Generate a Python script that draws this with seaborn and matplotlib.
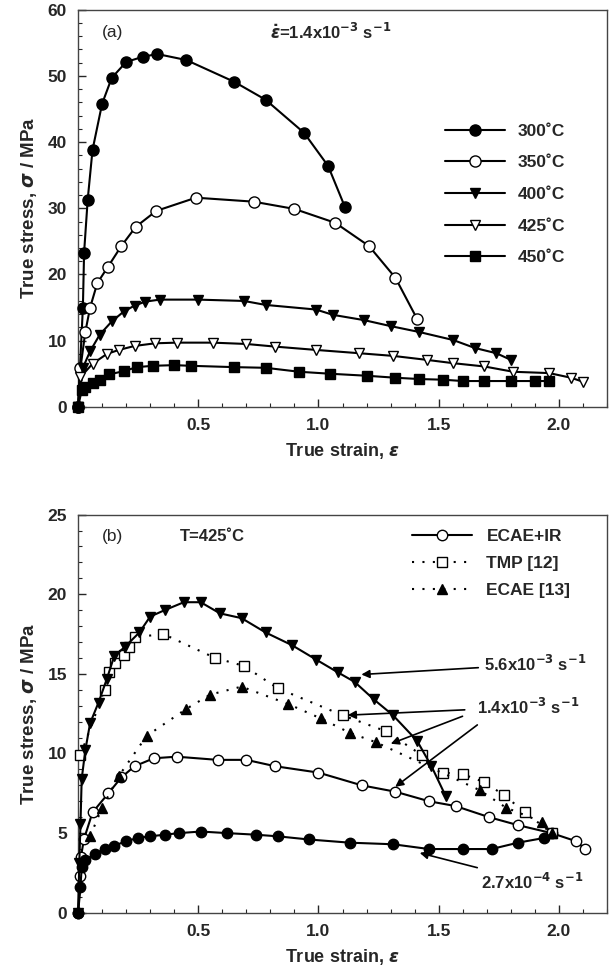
import numpy as np
import pandas as pd
import matplotlib
matplotlib.use('Agg')
import matplotlib.pyplot as plt
from matplotlib.ticker import MultipleLocator
import seaborn as sns

# ---- panel (a): strain rate 1.4x10^-3 s^-1, different temperatures ----
x_300 = [0, 0.02, 0.025, 0.04, 0.06, 0.10, 0.14, 0.20, 0.27, 0.33, 0.45, 0.65, 0.78, 0.94, 1.04, 1.11]
y_300 = [0, 15.0, 23.3, 31.3, 38.8, 45.8, 49.7, 52.1, 52.9, 53.3, 52.4, 49.1, 46.4, 41.4, 36.4, 30.2]

x_350 = [0, 0.01, 0.03, 0.05, 0.08, 0.125, 0.18, 0.24, 0.325, 0.49, 0.73, 0.90, 1.07, 1.21, 1.32, 1.41]
y_350 = [0, 5.9, 11.3, 15.0, 18.7, 21.2, 24.3, 27.2, 29.6, 31.6, 31.0, 29.9, 27.8, 24.3, 19.5, 13.3]

x_400 = [0, 0.02, 0.05, 0.09, 0.14, 0.19, 0.235, 0.28, 0.34, 0.50, 0.69, 0.78, 0.99, 1.06,
         1.19, 1.30, 1.42, 1.56, 1.65, 1.74, 1.80]
y_400 = [0, 5.9, 8.4, 10.9, 12.9, 14.4, 15.3, 15.9, 16.2, 16.2, 16.0, 15.4, 14.7, 13.9,
         13.1, 12.2, 11.3, 10.1, 8.9, 8.1, 7.1]

x_425 = [0, 0.01, 0.06, 0.12, 0.17, 0.235, 0.32, 0.41, 0.56, 0.70, 0.82, 0.99, 1.17, 1.31,
         1.45, 1.56, 1.69, 1.81, 1.96, 2.05, 2.10]
y_425 = [0, 4.5, 6.5, 8.0, 8.6, 9.2, 9.6, 9.7, 9.7, 9.5, 9.1, 8.6, 8.1, 7.7,
         7.1, 6.6, 6.1, 5.3, 5.1, 4.4, 3.8]

x_450 = [0, 0.015, 0.03, 0.06, 0.09, 0.13, 0.19, 0.245, 0.31, 0.40, 0.47, 0.65, 0.78, 0.92,
         1.05, 1.20, 1.32, 1.42, 1.52, 1.60, 1.69, 1.80, 1.90, 1.96]
y_450 = [0, 2.5, 3.0, 3.6, 4.1, 4.9, 5.4, 6.0, 6.2, 6.3, 6.2, 6.0, 5.9, 5.3,
         5.0, 4.7, 4.4, 4.2, 4.1, 3.9, 3.9, 3.9, 3.9, 3.9]

# ---- panel (b): T = 425 C ----
x_ecae_ir = [0, 0.01, 0.012, 0.024, 0.06, 0.126, 0.18, 0.235, 0.315, 0.41, 0.58, 0.70, 0.82,
             1.00, 1.18, 1.32, 1.46, 1.57, 1.71, 1.83, 1.97, 2.07, 2.11]
y_ecae_ir = [0, 2.3, 3.5, 4.6, 6.3, 7.5, 8.5, 9.2, 9.7, 9.8, 9.6, 9.6, 9.2,
             8.8, 8.0, 7.6, 7.0, 6.7, 6.0, 5.5, 5.0, 4.5, 4.0]

x_tmp = [0.01, 0.11, 0.13, 0.155, 0.19, 0.21, 0.235, 0.355, 0.57, 0.69, 0.83, 1.10, 1.28,
         1.43, 1.52, 1.60, 1.69, 1.77, 1.86, 1.97]
y_tmp = [9.9, 14.0, 15.1, 15.7, 16.2, 16.7, 17.3, 17.5, 16.0, 15.5, 14.1, 12.4, 11.4,
         9.9, 8.8, 8.7, 8.2, 7.4, 6.3, 5.0]

x_ecae = [0.05, 0.10, 0.17, 0.285, 0.45, 0.55, 0.68, 0.875, 1.01, 1.13, 1.24, 1.67, 1.78, 1.93, 1.97]
y_ecae = [4.8, 6.6, 8.6, 11.1, 12.8, 13.7, 14.2, 13.1, 12.2, 11.3, 10.7, 7.7, 6.6, 5.7, 5.0]

x_fast = [0, 0.005, 0.01, 0.015, 0.03, 0.05, 0.085, 0.12, 0.15, 0.195, 0.255, 0.30, 0.36, 0.44,
          0.51, 0.59, 0.68, 0.78, 0.89, 0.99, 1.08, 1.15, 1.23, 1.31, 1.41, 1.47, 1.53]
y_fast = [0, 3.1, 5.6, 8.4, 10.2, 11.9, 13.2, 14.7, 16.1, 16.7, 17.6, 18.6, 19.0, 19.5,
          19.5, 18.8, 18.5, 17.6, 16.8, 15.9, 15.1, 14.5, 13.4, 12.4, 10.8, 9.2, 7.3]

x_slow = [0, 0.01, 0.015, 0.03, 0.07, 0.11, 0.15, 0.20, 0.25, 0.30, 0.36, 0.42, 0.51, 0.62,
          0.74, 0.83, 0.96, 1.13, 1.31, 1.46, 1.60, 1.72, 1.83, 1.94]
y_slow = [0, 1.6, 2.9, 3.3, 3.7, 4.0, 4.2, 4.5, 4.7, 4.8, 4.9, 5.0, 5.1, 5.0,
          4.9, 4.8, 4.6, 4.4, 4.3, 4.0, 4.0, 4.0, 4.4, 4.7]

sns.set_style('ticks')
plt.rcParams['font.family'] = ['Liberation Sans', 'DejaVu Sans']
plt.rcParams['font.weight'] = 'bold'
plt.rcParams['mathtext.fontset'] = 'dejavusans'

fig = plt.figure(figsize=(6.1, 9.71), dpi=100)
ax1 = fig.add_axes([0.128, 0.581, 0.867, 0.409])
ax2 = fig.add_axes([0.128, 0.060, 0.867, 0.410])

dots = (0, (1, 4))


def curve(ax, x, y, label, marker, filled, ms, ls='-'):
    df = pd.DataFrame({'strain': x, 'stress': y})
    sns.lineplot(data=df, x='strain', y='stress', ax=ax, sort=False, estimator=None,
                 color='black', linewidth=1.5, linestyle=ls, marker=marker, markersize=ms,
                 markerfacecolor='black' if filled else 'white', markeredgecolor='black',
                 markeredgewidth=1.0, label=label, clip_on=False, zorder=3)


# panel (a)
curve(ax1, x_300, y_300, '300˚C', 'o', True, 8)
curve(ax1, x_350, y_350, '350˚C', 'o', False, 8)
curve(ax1, x_400, y_400, '400˚C', 'v', True, 7)
curve(ax1, x_425, y_425, '425˚C', 'v', False, 7)
curve(ax1, x_450, y_450, '450˚C', 's', True, 6.5)

# panel (b)
curve(ax2, x_ecae_ir, y_ecae_ir, 'ECAE+IR', 'o', False, 7.5)
curve(ax2, x_tmp, y_tmp, 'TMP [12]', 's', False, 7.5, ls=dots)
curve(ax2, x_ecae, y_ecae, 'ECAE [13]', '^', True, 7, ls=dots)
curve(ax2, x_fast, y_fast, None, 'v', True, 7)
curve(ax2, x_slow, y_slow, None, 'o', True, 7.5)

for ax, ymax, ymaj, ymin in [(ax1, 60, 10, 2), (ax2, 25, 5, 1)]:
    ax.set_xlim(0, 2.2)
    ax.set_ylim(0, ymax)
    ax.set_xticks([0.5, 1.0, 1.5, 2.0])
    ax.xaxis.set_minor_locator(MultipleLocator(0.1))
    ax.yaxis.set_major_locator(MultipleLocator(ymaj))
    ax.yaxis.set_minor_locator(MultipleLocator(ymin))
    ax.tick_params(which='major', direction='in', length=6, width=1, labelsize=12.5, pad=8)
    ax.tick_params(which='minor', direction='in', length=3, width=0.8)
    for sp in ax.spines.values():
        sp.set_color('#444444')
        sp.set_linewidth(1.0)
    ax.set_xlabel(r'True strain, $\varepsilon$', fontsize=13, fontweight='bold', labelpad=6)
    ax.set_ylabel(r'True stress, $\sigma$ / MPa', fontsize=13.5, fontweight='bold', labelpad=6)
    ax.set_facecolor('white')

leg1 = ax1.legend(loc='upper left', bbox_to_anchor=(0.694, 0.713), frameon=False,
                  fontsize=12.5, handlelength=3.45, handletextpad=0.75, labelspacing=0.95,
                  borderpad=0, borderaxespad=0)
leg2 = ax2.legend(loc='upper left', bbox_to_anchor=(0.631, 0.965), frameon=False,
                  fontsize=12.5, handlelength=3.45, handletextpad=0.85, labelspacing=0.68,
                  borderpad=0, borderaxespad=0)

ax1.text(0.10, 56.6, '(a)', fontsize=12.5, fontweight='normal', va='center')
ax1.text(0.80, 56.6, r'$\dot{\varepsilon}$=1.4x10$^{-3}$ s$^{-1}$', fontsize=12, va='center')
ax2.text(0.10, 23.6, '(b)', fontsize=12.5, fontweight='normal', va='center')
ax2.text(0.425, 23.6, 'T=425˚C', fontsize=12, va='center')

arrow = dict(arrowstyle='-|>', color='black', lw=1.2, mutation_scale=12)
ax2.annotate(r'5.6x10$^{-3}$ s$^{-1}$', xy=(1.167, 14.95), xytext=(1.69, 15.6),
             fontsize=12, va='center', arrowprops=arrow)
ax2.text(1.66, 12.9, r'1.4x10$^{-3}$ s$^{-1}$', fontsize=12, va='center')
for tail, head in [((1.62, 12.75), (1.11, 12.4)), ((1.61, 12.4), (1.29, 10.55)),
                   ((1.67, 11.9), (1.31, 7.8))]:
    ax2.annotate('', xy=head, xytext=tail, arrowprops=arrow)
ax2.annotate(r'2.7x10$^{-4}$ s$^{-1}$', xy=(1.41, 3.8), xytext=(1.675, 1.95),
             fontsize=12, va='center', arrowprops=arrow)

fig.savefig('out.png', dpi=100)
